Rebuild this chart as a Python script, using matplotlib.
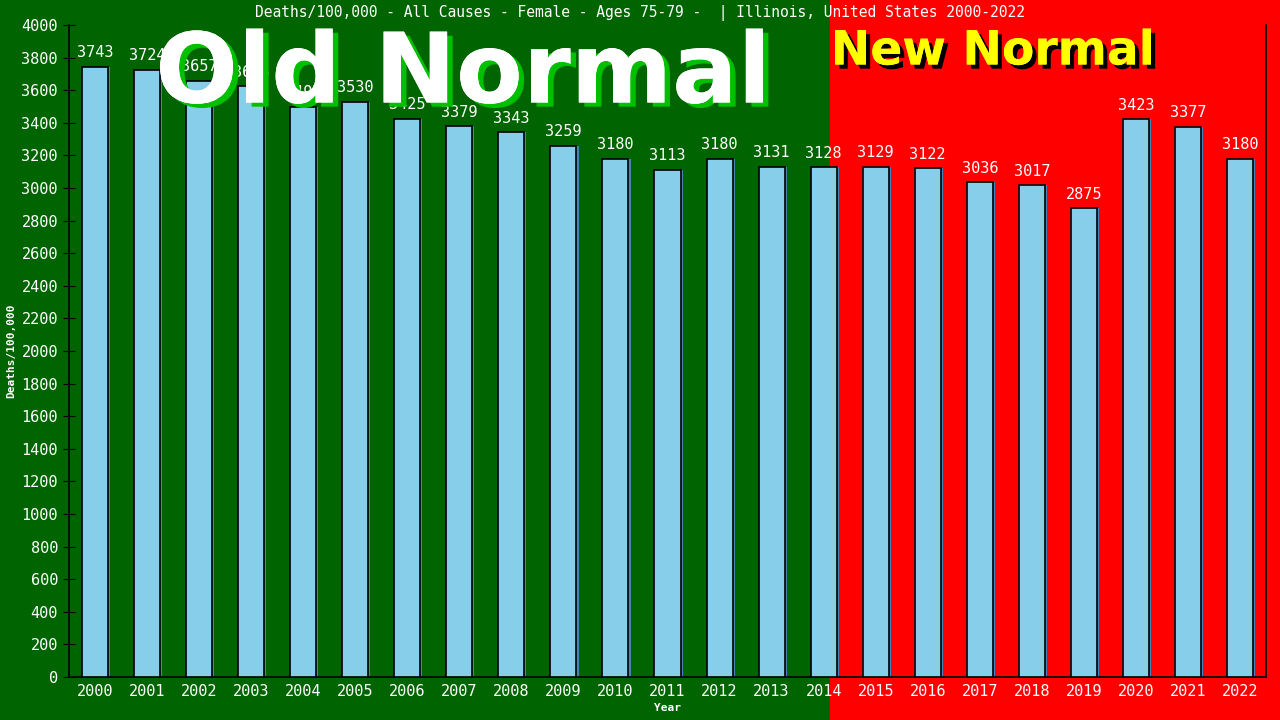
import matplotlib.pyplot as plt
from matplotlib.patches import Rectangle
import matplotlib.patheffects as pe

years = [str(y) for y in range(2000, 2023)]
deaths = [3743, 3724, 3657, 3625, 3497, 3530, 3425, 3379, 3343, 3259, 3180, 3113,
          3180, 3131, 3128, 3129, 3122, 3036, 3017, 2875, 3423, 3377, 3180]

mono = 'DejaVu Sans Mono'
fig = plt.figure(figsize=(12.8, 7.2), dpi=100)

# background split: old normal (green) / new normal (red)
split = 830 / 1280
fig.patches.append(Rectangle((0, 0), split, 1, transform=fig.transFigure,
                             color='#006400', zorder=-10))
fig.patches.append(Rectangle((split, 0), 1 - split, 1, transform=fig.transFigure,
                             color='#ff0000', zorder=-10))

ax = fig.add_axes([69 / 1280, 43 / 720, 1197 / 1280, 652 / 720])
ax.set_facecolor('none')

x = list(range(len(years)))
# shadow then bars
ax.bar([i + 0.04 for i in x], deaths, width=0.5, color='#4682b4', zorder=2)
ax.bar(x, deaths, width=0.5, color='#87ceeb', edgecolor='black', linewidth=1.2, zorder=3)

for i, v in zip(x, deaths):
    ax.text(i, v + 40, str(v), ha='center', va='bottom', color='white',
            fontsize=11, family=mono, zorder=4)

ax.set_xlim(-0.5, len(years) - 0.5)
ax.set_ylim(0, 4000)
ax.set_yticks(range(0, 4001, 200))
ax.set_xticks(x)
ax.set_xticklabels(years)
ax.tick_params(axis='y', direction='inout', length=9, colors='black', labelcolor='white', labelsize=11)
ax.tick_params(axis='x', length=0, labelcolor='white', labelsize=11, pad=5)
for lbl in ax.get_xticklabels() + ax.get_yticklabels():
    lbl.set_family(mono)
for s in ['left', 'bottom', 'right']:
    ax.spines[s].set_color('black')
    ax.spines[s].set_linewidth(1.2)
ax.spines['top'].set_visible(False)

ax.set_xlabel('Year', color='white', fontsize=8, family=mono, fontweight='bold', labelpad=3)
ax.set_ylabel('Deaths/100,000', color='white', fontsize=8, family=mono, fontweight='bold', labelpad=4)

fig.text(0.5, 1 - 13 / 720, 'Deaths/100,000 - All Causes - Female - Ages 75-79 -  | Illinois, United States 2000-2022',
         ha='center', va='center', color='white', fontsize=10.5, family=mono)

fig.text(463 / 1280, 1 - 76 / 720, 'Old Normal', ha='center', va='center', color='white',
         fontsize=70, fontweight='bold', family='DejaVu Sans', zorder=5,
         path_effects=[pe.withSimplePatchShadow(offset=(4, -3), shadow_rgbFace='#00c000', alpha=1),
                       pe.Normal()])
fig.text(993 / 1280, 1 - 52 / 720, 'New Normal', ha='center', va='center', color='#ffff00',
         fontsize=34, fontweight='bold', family='DejaVu Sans', zorder=5,
         path_effects=[pe.withSimplePatchShadow(offset=(3, -3), shadow_rgbFace='black', alpha=1),
                       pe.Normal()])

fig.savefig('out.png', dpi=100)
